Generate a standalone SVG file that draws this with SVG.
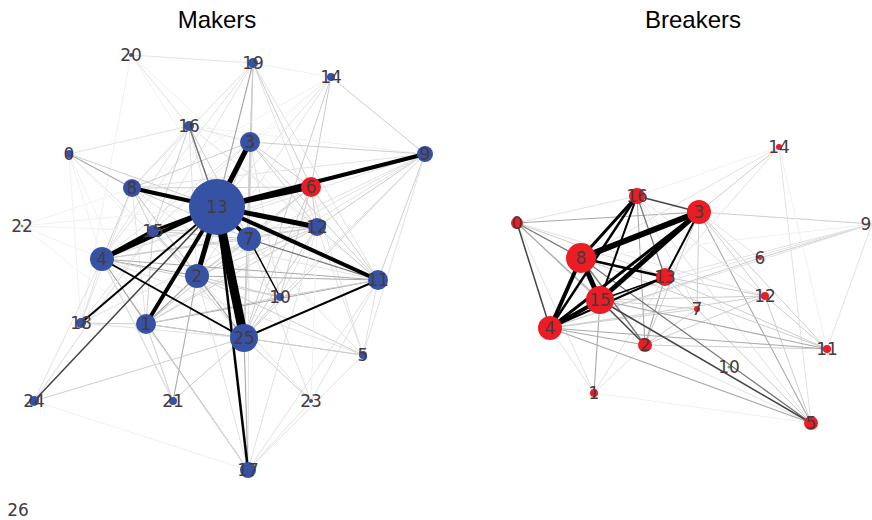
<svg xmlns="http://www.w3.org/2000/svg" width="872" height="520" viewBox="0 0 872 520">
<style>
.t{font-family:"Liberation Sans",Arial,sans-serif;font-size:24px;fill:#000;text-anchor:middle}
.l{font-family:"DejaVu Sans",sans-serif;font-size:17px;fill:#463a3e;text-anchor:middle}
.bn{fill:#3652a4}
.rn{fill:#ec1c24}
.gn{fill:#5cb85c}
line{stroke-linecap:butt}
.a{stroke:#f1f1f1;stroke-width:1}
.b{stroke:#e2e2e2;stroke-width:1}
.c{stroke:#cdcdcd;stroke-width:1}
.d{stroke:#a9a9a9;stroke-width:1.1}
.e{stroke:#777;stroke-width:1.3}
.f{stroke:#444;stroke-width:1.5}
.k{stroke:#000}
</style>
<rect width="872" height="520" fill="#fff"/>
<text class="t" x="217" y="28">Makers</text>
<text class="t" x="693" y="28">Breakers</text>
<g id="connectors-makers">
<line class="b" x1="131" y1="55" x2="189" y2="126"/>
<line class="b" x1="131" y1="55" x2="253" y2="63"/>
<line class="a" x1="131" y1="55" x2="81" y2="323"/>
<line class="a" x1="131" y1="55" x2="249" y2="239"/>
<line class="a" x1="131" y1="55" x2="317" y2="227"/>
<line class="b" x1="69" y1="154" x2="189" y2="126"/>
<line class="d" x1="69" y1="154" x2="132" y2="188"/>
<line class="c" x1="69" y1="154" x2="217" y2="207"/>
<line class="a" x1="69" y1="154" x2="102" y2="259"/>
<line class="a" x1="69" y1="154" x2="146" y2="324"/>
<line class="b" x1="69" y1="154" x2="197" y2="276"/>
<line class="a" x1="69" y1="154" x2="244" y2="338"/>
<line class="a" x1="69" y1="154" x2="81" y2="323"/>
<line class="c" x1="253" y1="63" x2="250" y2="142"/>
<line class="c" x1="253" y1="63" x2="249" y2="239"/>
<line class="c" x1="253" y1="63" x2="244" y2="338"/>
<line class="b" x1="253" y1="63" x2="153" y2="231"/>
<line class="b" x1="253" y1="63" x2="132" y2="188"/>
<line class="b" x1="253" y1="63" x2="317" y2="227"/>
<line class="c" x1="253" y1="63" x2="311" y2="187"/>
<line class="a" x1="253" y1="63" x2="331" y2="77"/>
<line class="b" x1="253" y1="63" x2="378" y2="280"/>
<line class="b" x1="253" y1="63" x2="102" y2="259"/>
<line class="c" x1="331" y1="77" x2="425" y2="154"/>
<line class="c" x1="331" y1="77" x2="311" y2="187"/>
<line class="c" x1="331" y1="77" x2="244" y2="338"/>
<line class="b" x1="331" y1="77" x2="217" y2="207"/>
<line class="a" x1="331" y1="77" x2="132" y2="188"/>
<line class="a" x1="331" y1="77" x2="153" y2="231"/>
<line class="b" x1="331" y1="77" x2="197" y2="276"/>
<line class="a" x1="331" y1="77" x2="250" y2="142"/>
<line class="b" x1="189" y1="126" x2="132" y2="188"/>
<line class="b" x1="189" y1="126" x2="102" y2="259"/>
<line class="c" x1="189" y1="126" x2="249" y2="239"/>
<line class="b" x1="189" y1="126" x2="317" y2="227"/>
<line class="b" x1="189" y1="126" x2="244" y2="338"/>
<line class="c" x1="189" y1="126" x2="153" y2="231"/>
<line class="b" x1="189" y1="126" x2="197" y2="276"/>
<line class="b" x1="189" y1="126" x2="250" y2="142"/>
<line class="a" x1="189" y1="126" x2="378" y2="280"/>
<line class="a" x1="189" y1="126" x2="425" y2="154"/>
<line class="c" x1="250" y1="142" x2="425" y2="154"/>
<line class="c" x1="250" y1="142" x2="132" y2="188"/>
<line class="c" x1="250" y1="142" x2="317" y2="227"/>
<line class="c" x1="250" y1="142" x2="249" y2="239"/>
<line class="c" x1="250" y1="142" x2="197" y2="276"/>
<line class="c" x1="250" y1="142" x2="378" y2="280"/>
<line class="b" x1="250" y1="142" x2="102" y2="259"/>
<line class="b" x1="250" y1="142" x2="153" y2="231"/>
<line class="c" x1="250" y1="142" x2="244" y2="338"/>
<line class="b" x1="250" y1="142" x2="280" y2="297"/>
<line class="c" x1="250" y1="142" x2="311" y2="187"/>
<line class="b" x1="425" y1="154" x2="132" y2="188"/>
<line class="c" x1="425" y1="154" x2="317" y2="227"/>
<line class="c" x1="425" y1="154" x2="378" y2="280"/>
<line class="c" x1="425" y1="154" x2="244" y2="338"/>
<line class="b" x1="425" y1="154" x2="197" y2="276"/>
<line class="b" x1="425" y1="154" x2="146" y2="324"/>
<line class="b" x1="425" y1="154" x2="249" y2="239"/>
<line class="b" x1="425" y1="154" x2="363" y2="355"/>
<line class="b" x1="425" y1="154" x2="102" y2="259"/>
<line class="b" x1="425" y1="154" x2="280" y2="297"/>
<line class="c" x1="311" y1="187" x2="317" y2="227"/>
<line class="c" x1="311" y1="187" x2="249" y2="239"/>
<line class="c" x1="311" y1="187" x2="244" y2="338"/>
<line class="c" x1="311" y1="187" x2="378" y2="280"/>
<line class="c" x1="311" y1="187" x2="132" y2="188"/>
<line class="b" x1="311" y1="187" x2="102" y2="259"/>
<line class="c" x1="311" y1="187" x2="197" y2="276"/>
<line class="b" x1="311" y1="187" x2="146" y2="324"/>
<line class="c" x1="311" y1="187" x2="280" y2="297"/>
<line class="b" x1="311" y1="187" x2="363" y2="355"/>
<line class="c" x1="132" y1="188" x2="153" y2="231"/>
<line class="c" x1="132" y1="188" x2="102" y2="259"/>
<line class="c" x1="132" y1="188" x2="197" y2="276"/>
<line class="b" x1="132" y1="188" x2="146" y2="324"/>
<line class="c" x1="132" y1="188" x2="249" y2="239"/>
<line class="c" x1="132" y1="188" x2="317" y2="227"/>
<line class="c" x1="132" y1="188" x2="244" y2="338"/>
<line class="b" x1="132" y1="188" x2="81" y2="323"/>
<line class="b" x1="132" y1="188" x2="280" y2="297"/>
<line class="a" x1="22" y1="226" x2="217" y2="207"/>
<line class="a" x1="22" y1="226" x2="102" y2="259"/>
<line class="a" x1="22" y1="226" x2="153" y2="231"/>
<line class="a" x1="22" y1="226" x2="132" y2="188"/>
<line class="a" x1="22" y1="226" x2="146" y2="324"/>
<line class="c" x1="153" y1="231" x2="197" y2="276"/>
<line class="c" x1="153" y1="231" x2="249" y2="239"/>
<line class="c" x1="153" y1="231" x2="244" y2="338"/>
<line class="c" x1="153" y1="231" x2="317" y2="227"/>
<line class="c" x1="153" y1="231" x2="146" y2="324"/>
<line class="b" x1="153" y1="231" x2="81" y2="323"/>
<line class="b" x1="153" y1="231" x2="378" y2="280"/>
<line class="b" x1="153" y1="231" x2="34" y2="401"/>
<line class="c" x1="317" y1="227" x2="249" y2="239"/>
<line class="c" x1="317" y1="227" x2="378" y2="280"/>
<line class="c" x1="317" y1="227" x2="244" y2="338"/>
<line class="c" x1="317" y1="227" x2="197" y2="276"/>
<line class="c" x1="317" y1="227" x2="146" y2="324"/>
<line class="c" x1="317" y1="227" x2="102" y2="259"/>
<line class="b" x1="317" y1="227" x2="280" y2="297"/>
<line class="b" x1="317" y1="227" x2="363" y2="355"/>
<line class="c" x1="249" y1="239" x2="244" y2="338"/>
<line class="c" x1="249" y1="239" x2="197" y2="276"/>
<line class="c" x1="249" y1="239" x2="102" y2="259"/>
<line class="c" x1="249" y1="239" x2="146" y2="324"/>
<line class="e" x1="249" y1="239" x2="378" y2="280"/>
<line class="b" x1="249" y1="239" x2="363" y2="355"/>
<line class="b" x1="249" y1="239" x2="311" y2="401"/>
<line class="b" x1="249" y1="239" x2="248" y2="470"/>
<line class="b" x1="249" y1="239" x2="81" y2="323"/>
<line class="d" x1="102" y1="259" x2="197" y2="276"/>
<line class="c" x1="102" y1="259" x2="146" y2="324"/>
<line class="d" x1="102" y1="259" x2="378" y2="280"/>
<line class="b" x1="102" y1="259" x2="81" y2="323"/>
<line class="c" x1="102" y1="259" x2="173" y2="401"/>
<line class="b" x1="102" y1="259" x2="34" y2="401"/>
<line class="c" x1="102" y1="259" x2="280" y2="297"/>
<line class="d" x1="102" y1="259" x2="248" y2="470"/>
<line class="d" x1="197" y1="276" x2="244" y2="338"/>
<line class="d" x1="197" y1="276" x2="146" y2="324"/>
<line class="d" x1="197" y1="276" x2="378" y2="280"/>
<line class="c" x1="197" y1="276" x2="280" y2="297"/>
<line class="d" x1="197" y1="276" x2="173" y2="401"/>
<line class="b" x1="197" y1="276" x2="248" y2="470"/>
<line class="c" x1="197" y1="276" x2="363" y2="355"/>
<line class="b" x1="197" y1="276" x2="311" y2="401"/>
<line class="d" x1="378" y1="280" x2="146" y2="324"/>
<line class="c" x1="378" y1="280" x2="280" y2="297"/>
<line class="b" x1="378" y1="280" x2="363" y2="355"/>
<line class="b" x1="378" y1="280" x2="311" y2="401"/>
<line class="b" x1="378" y1="280" x2="248" y2="470"/>
<line class="c" x1="280" y1="297" x2="244" y2="338"/>
<line class="c" x1="280" y1="297" x2="146" y2="324"/>
<line class="d" x1="146" y1="324" x2="244" y2="338"/>
<line class="c" x1="146" y1="324" x2="81" y2="323"/>
<line class="c" x1="146" y1="324" x2="173" y2="401"/>
<line class="b" x1="146" y1="324" x2="248" y2="470"/>
<line class="c" x1="146" y1="324" x2="363" y2="355"/>
<line class="c" x1="244" y1="338" x2="363" y2="355"/>
<line class="c" x1="244" y1="338" x2="173" y2="401"/>
<line class="c" x1="244" y1="338" x2="34" y2="401"/>
<line class="d" x1="244" y1="338" x2="248" y2="470"/>
<line class="c" x1="244" y1="338" x2="311" y2="401"/>
<line class="b" x1="244" y1="338" x2="81" y2="323"/>
<line class="b" x1="248" y1="470" x2="363" y2="355"/>
<line class="b" x1="248" y1="470" x2="311" y2="401"/>
<line class="b" x1="248" y1="470" x2="317" y2="227"/>
<line class="a" x1="248" y1="470" x2="34" y2="401"/>
<line class="b" x1="34" y1="401" x2="153" y2="231"/>
<line class="a" x1="311" y1="401" x2="317" y2="227"/>
<line class="b" x1="363" y1="355" x2="102" y2="259"/>
<line class="b" x1="173" y1="401" x2="102" y2="259"/>
<line class="d" x1="189" y1="126" x2="217" y2="207"/>
<line class="d" x1="253" y1="63" x2="217" y2="207"/>
<line class="f" x1="34" y1="401" x2="217" y2="207"/>
<line class="e" x1="189" y1="126" x2="217" y2="207"/>
<line class="k" stroke-width="1.5" x1="249" y1="239" x2="280" y2="297"/>
<line class="k" stroke-width="2" x1="244" y1="338" x2="378" y2="280"/>
<line class="k" stroke-width="2" x1="102" y1="259" x2="244" y2="338"/>
<line class="k" stroke-width="2" x1="81" y1="323" x2="217" y2="207"/>
<line class="k" stroke-width="2.5" x1="217" y1="207" x2="248" y2="470"/>
<line class="k" stroke-width="4" x1="102" y1="259" x2="153" y2="231"/>
<line class="k" stroke-width="3" x1="217" y1="207" x2="153" y2="231"/>
<line class="k" stroke-width="4" x1="217" y1="207" x2="102" y2="259"/>
<line class="k" stroke-width="4" x1="217" y1="207" x2="146" y2="324"/>
<line class="k" stroke-width="5" x1="217" y1="207" x2="197" y2="276"/>
<line class="k" stroke-width="3.5" x1="217" y1="207" x2="249" y2="239"/>
<line class="k" stroke-width="5" x1="217" y1="207" x2="250" y2="142"/>
<line class="k" stroke-width="4" x1="217" y1="207" x2="132" y2="188"/>
<line class="k" stroke-width="5" x1="217" y1="207" x2="311" y2="187"/>
<line class="k" stroke-width="4" x1="217" y1="207" x2="425" y2="154"/>
<line class="k" stroke-width="5" x1="217" y1="207" x2="317" y2="227"/>
<line class="k" stroke-width="4" x1="217" y1="207" x2="378" y2="280"/>
<line class="k" stroke-width="9" x1="217" y1="207" x2="244" y2="338"/>
</g>
<g id="connectors-breakers">
<line class="b" x1="517" y1="223" x2="637" y2="196"/>
<line class="c" x1="517" y1="223" x2="665" y2="277"/>
<line class="c" x1="517" y1="223" x2="645" y2="345"/>
<line class="b" x1="517" y1="223" x2="594" y2="393"/>
<line class="b" x1="517" y1="223" x2="765" y2="296"/>
<line class="d" x1="517" y1="223" x2="600" y2="300"/>
<line class="d" x1="517" y1="223" x2="699" y2="212"/>
<line class="c" x1="699" y1="212" x2="779" y2="147"/>
<line class="c" x1="699" y1="212" x2="872" y2="224"/>
<line class="c" x1="760" y1="258" x2="872" y2="224"/>
<line class="c" x1="699" y1="212" x2="765" y2="296"/>
<line class="d" x1="699" y1="212" x2="811" y2="423"/>
<line class="c" x1="699" y1="212" x2="827" y2="349"/>
<line class="c" x1="699" y1="212" x2="697" y2="309"/>
<line class="c" x1="699" y1="212" x2="645" y2="345"/>
<line class="b" x1="699" y1="212" x2="760" y2="258"/>
<line class="c" x1="765" y1="296" x2="827" y2="349"/>
<line class="b" x1="779" y1="147" x2="811" y2="423"/>
<line class="b" x1="779" y1="147" x2="665" y2="277"/>
<line class="b" x1="779" y1="147" x2="581" y2="258"/>
<line class="a" x1="779" y1="147" x2="637" y2="196"/>
<line class="a" x1="779" y1="147" x2="827" y2="349"/>
<line class="d" x1="594" y1="393" x2="600" y2="300"/>
<line class="b" x1="594" y1="393" x2="550" y2="328"/>
<line class="b" x1="594" y1="393" x2="665" y2="277"/>
<line class="a" x1="594" y1="393" x2="811" y2="423"/>
<line class="b" x1="594" y1="393" x2="645" y2="345"/>
<line class="c" x1="645" y1="345" x2="697" y2="309"/>
<line class="c" x1="697" y1="309" x2="600" y2="300"/>
<line class="c" x1="697" y1="309" x2="665" y2="277"/>
<line class="c" x1="697" y1="309" x2="550" y2="328"/>
<line class="c" x1="665" y1="277" x2="765" y2="296"/>
<line class="b" x1="665" y1="277" x2="872" y2="224"/>
<line class="d" x1="665" y1="277" x2="645" y2="345"/>
<line class="c" x1="665" y1="277" x2="827" y2="349"/>
<line class="d" x1="637" y1="196" x2="645" y2="345"/>
<line class="b" x1="637" y1="196" x2="697" y2="309"/>
<line class="b" x1="637" y1="196" x2="765" y2="296"/>
<line class="b" x1="872" y1="224" x2="550" y2="328"/>
<line class="b" x1="872" y1="224" x2="600" y2="300"/>
<line class="a" x1="872" y1="224" x2="581" y2="258"/>
<line class="b" x1="872" y1="224" x2="827" y2="349"/>
<line class="c" x1="765" y1="296" x2="811" y2="423"/>
<line class="c" x1="765" y1="296" x2="645" y2="345"/>
<line class="c" x1="550" y1="328" x2="760" y2="258"/>
<line class="c" x1="827" y1="349" x2="645" y2="345"/>
<line class="c" x1="827" y1="349" x2="581" y2="258"/>
<line class="b" x1="811" y1="423" x2="645" y2="345"/>
<line class="c" x1="811" y1="423" x2="665" y2="277"/>
<line class="b" x1="811" y1="423" x2="637" y2="196"/>
<line class="d" x1="550" y1="328" x2="645" y2="345"/>
<line class="d" x1="550" y1="328" x2="827" y2="349"/>
<line class="d" x1="600" y1="300" x2="827" y2="349"/>
<line class="c" x1="600" y1="300" x2="765" y2="296"/>
<line class="c" x1="550" y1="328" x2="765" y2="296"/>
<line class="d" x1="550" y1="328" x2="811" y2="423"/>
<line class="e" x1="581" y1="258" x2="811" y2="423"/>
<line class="e" x1="581" y1="258" x2="645" y2="345"/>
<line class="e" x1="517" y1="223" x2="581" y2="258"/>
<line class="f" x1="517" y1="223" x2="550" y2="328"/>
<line class="f" x1="600" y1="300" x2="645" y2="345"/>
<line class="f" x1="600" y1="300" x2="811" y2="423"/>
<line class="e" x1="637" y1="196" x2="665" y2="277"/>
<line class="f" x1="637" y1="196" x2="699" y2="212"/>
<line class="k" stroke-width="1.5" x1="665" y1="277" x2="600" y2="300"/>
<line class="k" stroke-width="2" x1="665" y1="277" x2="550" y2="328"/>
<line class="k" stroke-width="2" x1="665" y1="277" x2="699" y2="212"/>
<line class="k" stroke-width="2.5" x1="581" y1="258" x2="665" y2="277"/>
<line class="k" stroke-width="2" x1="600" y1="300" x2="637" y2="196"/>
<line class="k" stroke-width="2.5" x1="550" y1="328" x2="637" y2="196"/>
<line class="k" stroke-width="3" x1="550" y1="328" x2="699" y2="212"/>
<line class="k" stroke-width="4" x1="550" y1="328" x2="600" y2="300"/>
<line class="k" stroke-width="4" x1="581" y1="258" x2="550" y2="328"/>
<line class="k" stroke-width="3" x1="581" y1="258" x2="637" y2="196"/>
<line class="k" stroke-width="5" x1="581" y1="258" x2="600" y2="300"/>
<line class="k" stroke-width="5" x1="600" y1="300" x2="699" y2="212"/>
<line class="k" stroke-width="6" x1="581" y1="258" x2="699" y2="212"/>
</g>
<g id="makers-nodes">
<g id="m20"><circle class="bn" cx="131" cy="55" r="2"/><text class="l" x="131" y="61">20</text></g>
<g id="m19"><circle class="bn" cx="253" cy="63" r="5"/><text class="l" x="253" y="69">19</text></g>
<g id="m14"><circle class="bn" cx="331" cy="77" r="4"/><text class="l" x="331" y="83">14</text></g>
<g id="m16"><circle class="bn" cx="189" cy="126" r="5"/><text class="l" x="189" y="132">16</text></g>
<g id="m0"><circle class="bn" cx="69" cy="154" r="4"/><text class="l" x="69" y="160">0</text></g>
<g id="m3"><circle class="bn" cx="250" cy="142" r="10"/><text class="l" x="250" y="148">3</text></g>
<g id="m9"><circle class="bn" cx="425" cy="154" r="8"/><text class="l" x="425" y="160">9</text></g>
<g id="m6"><circle class="rn" cx="311" cy="187" r="10"/><text class="l" x="311" y="193">6</text></g>
<g id="m8"><circle class="bn" cx="132" cy="188" r="9"/><text class="l" x="132" y="194">8</text></g>
<g id="m13"><circle class="bn" cx="217" cy="207" r="28"/><text class="l" x="217" y="213">13</text></g>
<g id="m22"><circle class="gn" cx="22" cy="226" r="1.5"/><text class="l" x="22" y="232">22</text></g>
<g id="m15"><circle class="bn" cx="153" cy="231" r="6"/><text class="l" x="153" y="237">15</text></g>
<g id="m12"><circle class="bn" cx="317" cy="227" r="9"/><text class="l" x="317" y="233">12</text></g>
<g id="m7"><circle class="bn" cx="249" cy="239" r="12"/><text class="l" x="249" y="245">7</text></g>
<g id="m4"><circle class="bn" cx="102" cy="259" r="12"/><text class="l" x="102" y="265">4</text></g>
<g id="m2"><circle class="bn" cx="197" cy="276" r="12"/><text class="l" x="197" y="282">2</text></g>
<g id="m11"><circle class="bn" cx="378" cy="280" r="10"/><text class="l" x="378" y="286">11</text></g>
<g id="m10"><circle class="bn" cx="280" cy="297" r="4"/><text class="l" x="280" y="303">10</text></g>
<g id="m18"><circle class="bn" cx="81" cy="323" r="5"/><text class="l" x="81" y="329">18</text></g>
<g id="m1"><circle class="bn" cx="146" cy="324" r="10"/><text class="l" x="146" y="330">1</text></g>
<g id="m25"><circle class="bn" cx="244" cy="338" r="14"/><text class="l" x="244" y="344">25</text></g>
<g id="m5"><circle class="bn" cx="363" cy="355" r="4"/><text class="l" x="363" y="361">5</text></g>
<g id="m24"><circle class="bn" cx="34" cy="401" r="5"/><text class="l" x="34" y="407">24</text></g>
<g id="m21"><circle class="bn" cx="173" cy="401" r="4"/><text class="l" x="173" y="407">21</text></g>
<g id="m23"><circle class="bn" cx="311" cy="401" r="2"/><text class="l" x="311" y="407">23</text></g>
<g id="m17"><circle class="bn" cx="248" cy="470" r="8"/><text class="l" x="248" y="476">17</text></g>
<g id="m26"><text class="l" x="18" y="516">26</text></g>
</g>
<g id="breakers-nodes">
<g id="b14"><circle class="rn" cx="779" cy="147" r="3"/><text class="l" x="779" y="153">14</text></g>
<g id="b16"><circle class="rn" cx="637" cy="196" r="8"/><text class="l" x="637" y="202">16</text></g>
<g id="b3"><circle class="rn" cx="699" cy="212" r="12"/><text class="l" x="699" y="218">3</text></g>
<g id="b0"><circle class="rn" cx="517" cy="223" r="6"/><text class="l" x="517" y="229">0</text></g>
<g id="b9"><text class="l" x="866" y="230">9</text></g>
<g id="b8"><circle class="rn" cx="581" cy="258" r="15"/><text class="l" x="581" y="264">8</text></g>
<g id="b6"><circle class="rn" cx="760" cy="258" r="2"/><text class="l" x="760" y="264">6</text></g>
<g id="b13"><circle class="rn" cx="665" cy="277" r="9"/><text class="l" x="665" y="283">13</text></g>
<g id="b15"><circle class="rn" cx="600" cy="300" r="14"/><text class="l" x="600" y="306">15</text></g>
<g id="b12"><circle class="rn" cx="765" cy="296" r="4"/><text class="l" x="765" y="302">12</text></g>
<g id="b7"><circle class="rn" cx="697" cy="309" r="3"/><text class="l" x="697" y="315">7</text></g>
<g id="b4"><circle class="rn" cx="550" cy="328" r="12"/><text class="l" x="550" y="334">4</text></g>
<g id="b2"><circle class="rn" cx="645" cy="345" r="7"/><text class="l" x="645" y="351">2</text></g>
<g id="b11"><circle class="rn" cx="827" cy="349" r="4"/><text class="l" x="827" y="355">11</text></g>
<g id="b10"><circle class="gn" cx="729" cy="367" r="1.5"/><text class="l" x="729" y="373">10</text></g>
<g id="b1"><circle class="rn" cx="594" cy="393" r="4"/><text class="l" x="594" y="399">1</text></g>
<g id="b5"><circle class="rn" cx="811" cy="423" r="7"/><text class="l" x="811" y="429">5</text></g>
</g>
</svg>
